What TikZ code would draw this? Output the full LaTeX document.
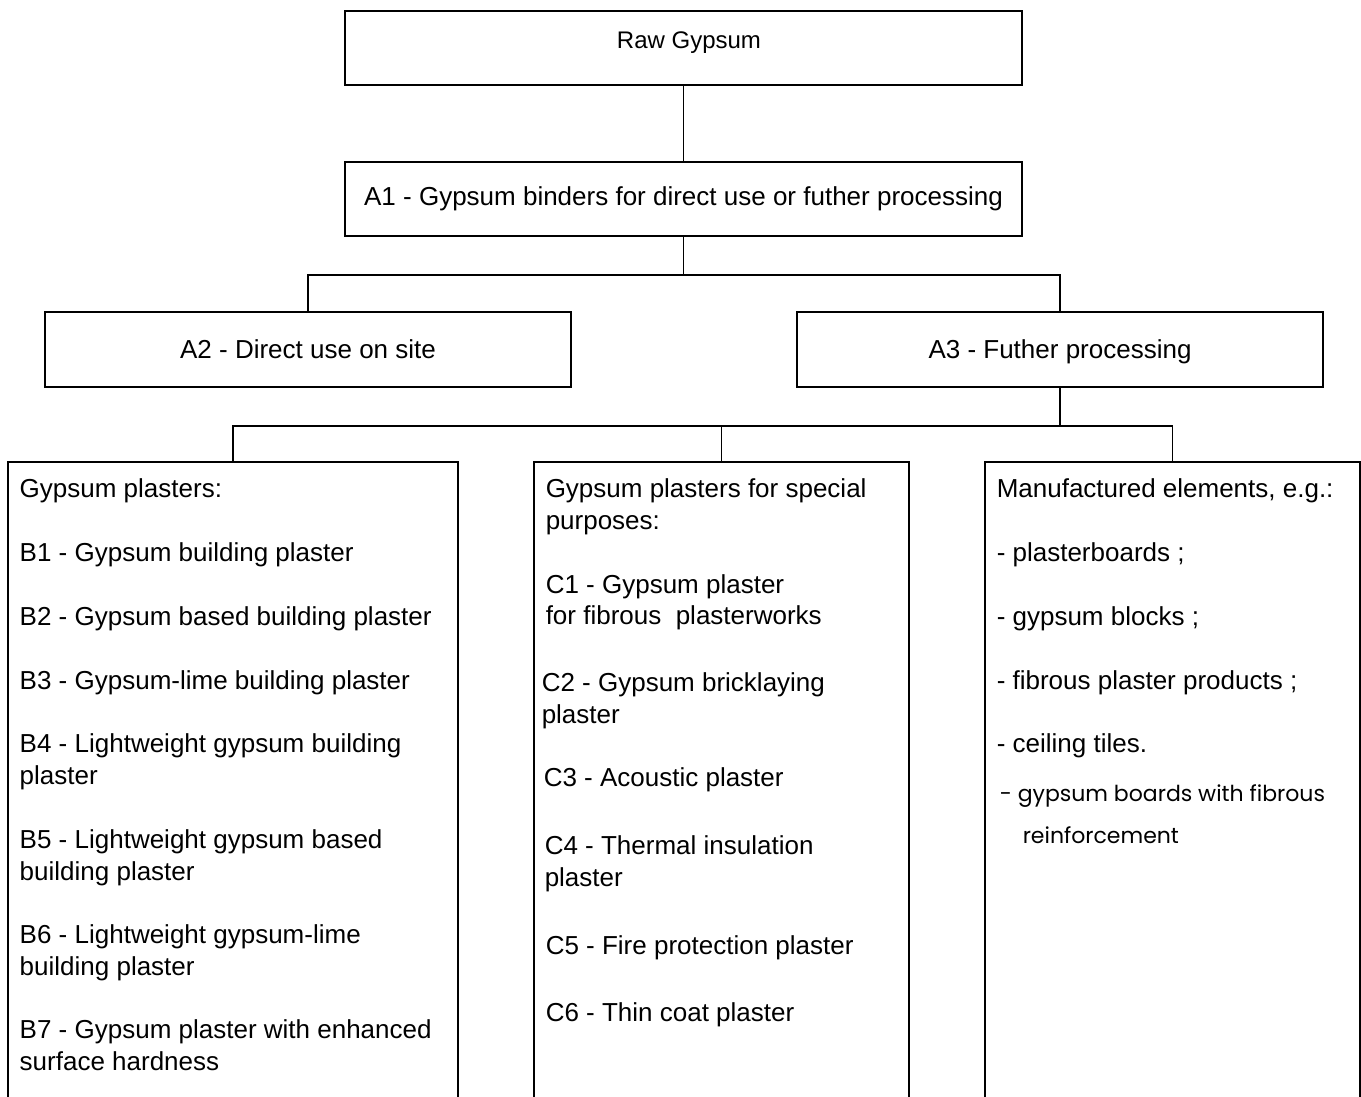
\documentclass[tikz,border=0pt]{standalone}
\usepackage{fontspec}
\setmainfont{Liberation Sans}
\newfontfamily\notefont{Poppins}
\begin{document}
\begin{tikzpicture}[
    x=0.5pt, y=-0.5pt,
    line width=0.75pt,
    every node/.style = {
      inner sep=0pt,
      font=\fontsize{13}{16}\selectfont
    },
    box/.style = {draw, shape=rectangle, sharp corners, align=center},
    topbox/.style = {box, minimum width=338.5pt, minimum height=37pt},
    midbox/.style = {box, minimum width=263pt, minimum height=37.5pt, text depth=0pt},
    listbox/.style = {draw, shape=rectangle, minimum height=329pt},
    entry/.style = {anchor=base west},
    note/.style = {anchor=base west, font=\notefont\fontsize{11}{13}\selectfont}
  ]
    \useasboundingbox (0,0) rectangle (1361,1097);
    \clip (0,0) rectangle (1361,1097);

    % Top of the tree
    \node[topbox] (raw) at (683.5,48) {};
    \node[font=\fontsize{12}{14}\selectfont] (rawtext) at (689,43) {Raw Gypsum};
    \node[topbox] (a1) at (683.5,199) {A1 - Gypsum binders for direct use or futher processing};
    \node[midbox] (a2) at (308,349.5) {A2 - Direct use on site};
    \node[midbox] (a3) at (1060,349.5) {A3 - Futher processing};

    % Open boxes at the bottom
    \node[listbox, minimum width=225pt] (plasters) at (233,791) {};
    \node[listbox, minimum width=187.5pt] (special) at (721.5,791) {};
    \node[listbox, minimum width=187.5pt] (manufactured) at (1172.5,791) {};

    % Connectors
    \draw (raw) -- (a1);
    \draw (a1.south) -- ++(0,38) coordinate (splitA);
    \draw (a2.north) |- (splitA) -| (a3.north);
    \draw (a3.south) -- ++(0,38) coordinate (splitB);
    \draw (plasters.north) |- (splitB) -| (manufactured.north);
    \draw (special.north) -- (special.north |- splitB);

    % Gypsum plasters
    \node[entry] (bhead) at (19,497) {Gypsum plasters:};
    \node[entry] (b1) at (19,561) {B1 - Gypsum building plaster};
    \node[entry] (b2) at (19,625) {B2 - Gypsum based building plaster};
    \node[entry] (b3) at (19,689) {B3 - Gypsum-lime building plaster};
    \node[entry] (b4) at (19,752) {B4 - Lightweight gypsum building};
    \node[entry] (b4l) at (19,784) {plaster};
    \node[entry] (b5) at (19,848) {B5 - Lightweight gypsum based};
    \node[entry] (b5l) at (19,880) {building plaster};
    \node[entry] (b6) at (19,943) {B6 - Lightweight gypsum-lime};
    \node[entry] (b6l) at (19,975) {building plaster};
    \node[entry] (b7) at (19,1038) {B7 - Gypsum plaster with enhanced};
    \node[entry] (b7l) at (19,1070) {surface hardness};

    % Gypsum plasters for special purposes
    \node[entry] (chead) at (545,497) {Gypsum plasters for special};
    \node[entry] (cheadl) at (545,529) {purposes:};
    \node[entry] (c1) at (545,593) {C1 - Gypsum plaster};
    \node[entry] (c1l) at (545,624) {for fibrous\ \ plasterworks};
    \node[entry] (c2) at (541,691) {C2 - Gypsum bricklaying};
    \node[entry] (c2l) at (541,723) {plaster};
    \node[entry] (c3) at (543,786) {C3 - Acoustic plaster};
    \node[entry] (c4) at (544,854) {C4 - Thermal insulation};
    \node[entry] (c4l) at (544,886) {plaster};
    \node[entry] (c5) at (545,954) {C5 - Fire protection plaster};
    \node[entry] (c6) at (545,1021) {C6 - Thin coat plaster};

    % Manufactured elements
    \node[entry] (dhead) at (996,497) {Manufactured elements, e.g.:};
    \node[entry] (d1) at (996,561) {- plasterboards ;};
    \node[entry] (d2) at (996,625) {- gypsum blocks ;};
    \node[entry] (d3) at (996,689) {- fibrous plaster products ;};
    \node[entry] (d4) at (996,752) {- ceiling tiles.};
    \node[note] (d5) at (999,801) {- gypsum boards with fibrous};
    \node[note] (d5l) at (1022,843) {reinforcement};
  \end{tikzpicture}
\end{document}
